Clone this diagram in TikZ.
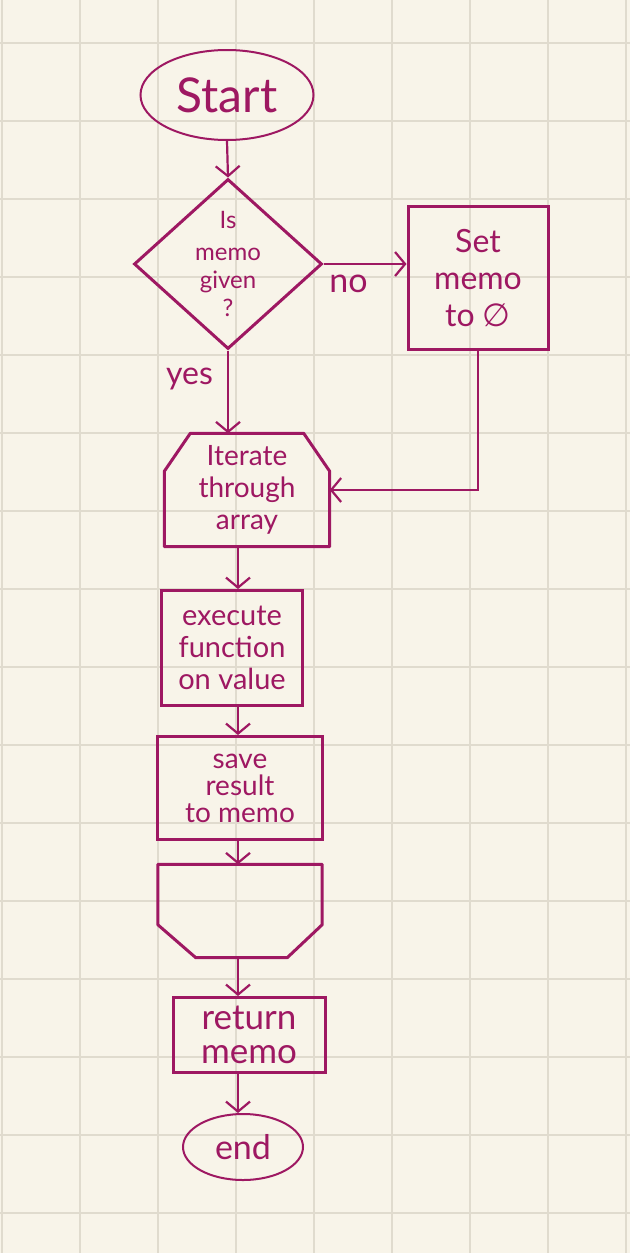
\documentclass[tikz,border=0pt]{standalone}
\usepackage{fontspec}
\setmainfont{Lato}
\newfontfamily\symfont{DejaVu Sans}
\usetikzlibrary{arrows.meta,shapes.geometric,calc}
\definecolor{ink}{RGB}{158,24,98}
\definecolor{paper}{RGB}{248,244,233}
\definecolor{gridc}{RGB}{224,219,206}
\begin{document}
\begin{tikzpicture}[x=1pt,y=-1pt,
  txt/.style={text=ink, font=\fontsize{28}{32}\selectfont, align=center, inner sep=0pt},
  procbox/.style={txt, draw=ink, line width=3pt, rectangle},
  term/.style={txt, draw=ink, line width=2pt, ellipse},
  ghost/.style={txt, rectangle},
  outline/.style={draw=ink, line width=3pt, line join=round},
  flow/.style={draw=ink, line width=2.2pt, -{Straight Barb[length=10pt,width=24pt,line width=2.2pt]}}
]
\useasboundingbox (0,0) rectangle (630,1253);
\fill[paper] (0,0) rectangle (630,1253);
\foreach \x in {2,80,...,626} \draw[gridc, line width=1.5pt] (\x,0) -- (\x,1253);
\foreach \y in {43,121,...,1253} \draw[gridc, line width=1.5pt] (0,\y) -- (630,\y);

\coordinate (col) at (238,0);

\node[term, minimum width=173pt, minimum height=90pt, font=\fontsize{48}{52}\selectfont] (start) at (227,95) {Start};
\node[txt, draw=ink, line width=3pt, diamond, aspect=1.1, minimum width=188pt, minimum height=170pt, font=\fontsize{24}{28}\selectfont] (dec) at (228,264) {Is\\[4pt]memo\\given\\?};
\node[procbox, minimum width=140pt, minimum height=143pt, font=\fontsize{32}{37}\selectfont] (setb) at (478,278) {Set\\memo\\to {\symfont ∅}};
\node[ghost, minimum width=165pt, minimum height=113pt] (iter) at (247,490) {Iterate\\through\\array};
\node[procbox, minimum width=141pt, minimum height=115pt, font=\fontsize{29}{32}\selectfont] (exec) at (232,648) {execute\\function\\on value};
\node[procbox, minimum width=165pt, minimum height=103pt, font=\fontsize{28}{27}\selectfont] (save) at (240,788) {save\\result\\to memo};
\node[ghost, minimum width=164pt, minimum height=93pt] (lend) at (240,911) {};
\node[procbox, minimum width=152pt, minimum height=75pt, font=\fontsize{35}{34}\selectfont] (ret) at (249,1035) {return\\memo};
\node[term, minimum width=120pt, minimum height=66pt, font=\fontsize{34}{36}\selectfont] (endn) at (243,1147) {end};

% loop limit outlines
\draw[outline] (iter.south west) -- ($(iter.north west)+(0,38)$) -- ($(iter.north west)+(26,0)$)
  -- ($(iter.north east)+(-26,0)$) -- ($(iter.north east)+(0,38)$) -- (iter.south east) -- cycle;
\draw[outline] (lend.north west) -- ($(lend.south west)+(0,-33)$) -- ($(lend.south west)+(38,0)$)
  -- ($(lend.south east)+(-35,0)$) -- ($(lend.south east)+(0,-33)$) -- (lend.north east) -- cycle;

% connectors
\draw[flow] (start.south) -- (dec.north);
\draw[flow] (dec.east) -- (dec.east -| setb.west) node[txt, pos=0.3, below=10pt, font=\fontsize{34}{36}\selectfont] {no};
\draw[flow] (dec.south) -- (dec.south |- iter.north) node[txt, pos=0.35, left=14pt, font=\fontsize{32}{34}\selectfont] {yes};
\draw[flow] (setb.south) |- (iter.east);
\draw[flow] (iter.south -| col) -- (exec.north -| col);
\draw[flow] (exec.south -| col) -- (save.north -| col);
\draw[flow] (save.south -| col) -- (lend.north -| col);
\draw[flow] (lend.south -| col) -- (ret.north -| col);
\draw[flow] (ret.south -| col) -- (endn.north -| col);
\end{tikzpicture}
\end{document}
